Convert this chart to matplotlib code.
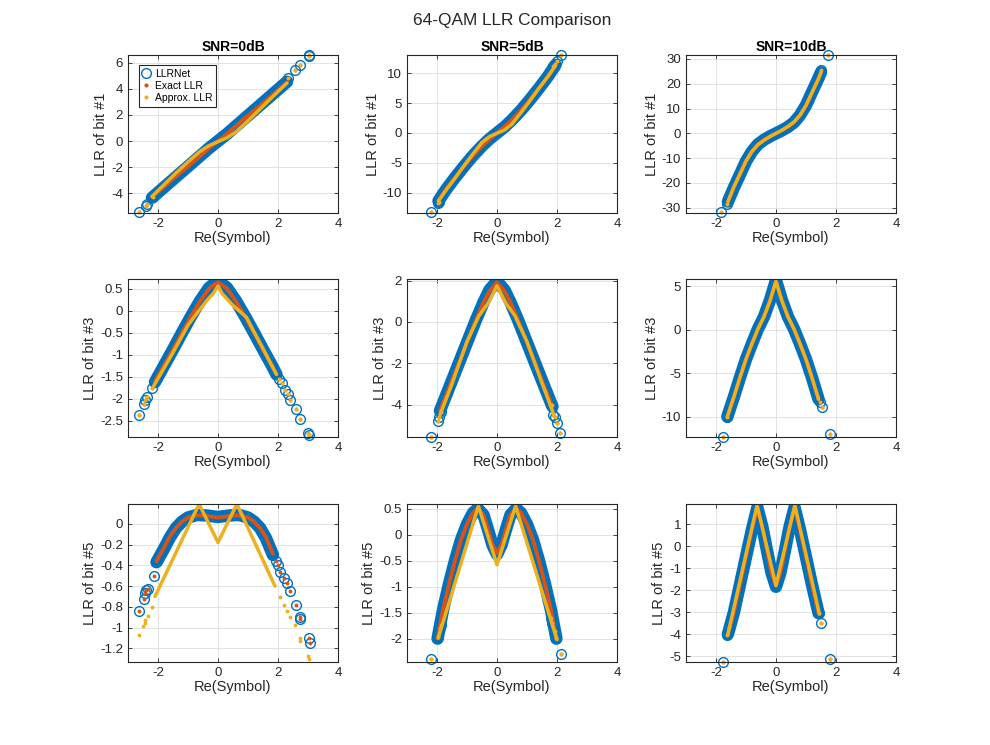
import matplotlib
matplotlib.use("Agg")
import matplotlib.pyplot as plt
from matplotlib.lines import Line2D

plt.rcParams['font.family'] = ['Liberation Sans', 'DejaVu Sans']
plt.rcParams['axes.unicode_minus'] = False

BLUE = '#0072BD'
RED = '#D95319'
YELLOW = '#EDB120'

snr_titles = ['SNR=0dB', 'SNR=5dB', 'SNR=10dB']
bit_labels = ['LLR of bit #1', 'LLR of bit #3', 'LLR of bit #5']
legend_labels = ['LLRNet', 'Exact LLR', 'Approx. LLR']

# ---- bit 1, SNR 0 dB
b1s0_x = [-2.2, -1.8, -1.4, -1.0, -0.6, -0.3, 0.0, 0.3, 0.6, 1.0, 1.4, 1.8, 2.3]
b1s0_net = [-4.35, -3.55, -2.75, -1.95, -1.15, -0.55, 0.0, 0.55, 1.15, 1.95, 2.75, 3.55, 4.55]
b1s0_exact = [-4.3, -3.5, -2.7, -1.95, -1.15, -0.55, 0.0, 0.55, 1.15, 1.95, 2.7, 3.5, 4.5]
b1s0_apx_x = [-2.2, -1.8, -1.4, -1.0, -0.6, -0.3, 0.0, 0.3, 0.6, 1.0, 1.4, 1.8, 2.3]
b1s0_apx = [-4.25, -3.35, -2.45, -1.6, -0.8, -0.35, -0.05, 0.25, 0.7, 1.55, 2.45, 3.35, 4.45]
b1s0_tail_x = [-2.62, -2.4, -2.36, -2.17, 2.35, 2.58, 2.74, 3.02, 3.04]
b1s0_tail = [-5.45, -4.95, -4.85, -4.3, 4.86, 5.44, 5.82, 6.5, 6.58]

# ---- bit 1, SNR 5 dB
b1s5_x = [-1.95, -1.7, -1.4, -1.1, -0.8, -0.5, -0.25, 0.0, 0.25, 0.5, 0.8, 1.1, 1.4, 1.7, 1.95]
b1s5_net = [-11.4, -9.5, -7.5, -5.6, -3.8, -2.2, -1.0, 0.0, 1.0, 2.2, 3.8, 5.6, 7.5, 9.5, 11.4]
b1s5_exact = [-11.3, -9.4, -7.5, -5.6, -3.8, -2.2, -1.05, 0.0, 1.05, 2.2, 3.8, 5.6, 7.5, 9.4, 11.3]
b1s5_apx_x = [-1.95, -1.7, -1.4, -1.1, -0.8, -0.5, -0.25, 0.0, 0.25, 0.5, 0.8, 1.1, 1.4, 1.7, 1.95]
b1s5_apx = [-11.4, -9.6, -7.6, -5.5, -3.5, -1.6, -0.6, -0.05, 0.5, 1.5, 3.4, 5.4, 7.5, 9.5, 11.3]
b1s5_tail_x = [-2.19, -1.97, -1.93, 1.88, 1.95, 1.99, 2.14]
b1s5_tail = [-13.3, -11.8, -11.5, 11.2, 11.6, 12.0, 13.1]

# ---- bit 1, SNR 10 dB
b1s10_x = [-1.6, -1.4, -1.2, -1.0, -0.8, -0.6, -0.4, -0.2, 0.0, 0.2, 0.4, 0.6, 0.8, 1.0, 1.2, 1.4, 1.5]
b1s10_net = [-27.5, -21.8, -16.6, -11.3, -7.3, -4.4, -2.6, -1.2, 0.0, 1.2, 2.6, 4.4, 7.3, 11.3, 16.6, 21.8, 24.6]
b1s10_exact = [-27.5, -21.5, -16.4, -11.2, -7.2, -4.4, -2.6, -1.2, 0.0, 1.2, 2.6, 4.4, 7.2, 11.2, 16.4, 21.5, 24.5]
b1s10_apx_x = [-1.6, -1.4, -1.2, -1.0, -0.8, -0.6, -0.4, -0.2, 0.0, 0.2, 0.4, 0.6, 0.8, 1.0, 1.2, 1.4, 1.5]
b1s10_apx = [-27.5, -21.5, -16.4, -11.2, -7.3, -4.6, -2.8, -1.3, 0.0, 1.3, 2.8, 4.6, 7.3, 11.2, 16.4, 21.5, 24.5]
b1s10_tail_x = [-1.82, -1.62, 1.5, 1.75]
b1s10_tail = [-31.8, -28.3, 25.6, 31.5]

# ---- bit 3, SNR 0 dB
b3s0_x = [-2.1, -1.8, -1.5, -1.2, -0.9, -0.6, -0.3, 0.0, 0.3, 0.6, 0.9, 1.2, 1.5, 1.8, 1.95]
b3s0_net = [-1.62, -1.25, -0.88, -0.5, -0.13, 0.22, 0.52, 0.68, 0.52, 0.22, -0.13, -0.5, -0.88, -1.25, -1.45]
b3s0_exact = [-1.6, -1.25, -0.88, -0.5, -0.13, 0.21, 0.5, 0.65, 0.5, 0.21, -0.13, -0.5, -0.88, -1.25, -1.44]
b3s0_apx_x = [-2.15, -1.5, -1.0, -0.75, -0.35, -0.15, 0.0, 0.15, 0.5, 0.95, 1.2, 1.5, 1.95]
b3s0_apx = [-1.72, -0.95, -0.33, -0.1, 0.25, 0.4, 0.56, 0.38, 0.12, -0.15, -0.48, -0.86, -1.45]
b3s0_tail_x = [-2.62, -2.48, -2.42, -2.36, -2.2, 2.05, 2.15, 2.25, 2.32, 2.39, 2.61, 2.74, 3.0, 3.03]
b3s0_tail = [-2.36, -2.13, -2.02, -1.97, -1.75, -1.55, -1.65, -1.8, -1.9, -2.02, -2.24, -2.47, -2.78, -2.82]

# ---- bit 3, SNR 5 dB
b3s5_x = [-1.9, -1.6, -1.3, -1.0, -0.7, -0.45, -0.25, 0.0, 0.25, 0.45, 0.7, 1.0, 1.3, 1.6, 1.85]
b3s5_net = [-4.3, -3.2, -2.1, -1.0, 0.1, 0.95, 1.55, 1.97, 1.55, 0.95, 0.1, -1.0, -2.1, -3.2, -4.1]
b3s5_exact = [-4.3, -3.2, -2.1, -1.0, 0.1, 0.95, 1.5, 1.92, 1.5, 0.95, 0.1, -1.0, -2.1, -3.2, -4.1]
b3s5_apx_x = [-1.9, -1.5, -1.0, -0.6, -0.3, 0.0, 0.3, 0.6, 1.0, 1.5, 1.9]
b3s5_apx = [-4.5, -3.0, -0.95, 0.3, 0.9, 1.75, 0.9, 0.3, -0.95, -2.95, -4.5]
b3s5_tail_x = [-2.19, -1.96, -1.93, -1.88, 1.82, 1.87, 1.93, 2.0, 2.11]
b3s5_tail = [-5.58, -4.8, -4.6, -4.35, -4.0, -4.5, -4.6, -4.9, -5.37]

# ---- bit 3, SNR 10 dB
b3s10_x = [-1.62, -1.4, -1.2, -1.0, -0.8, -0.6, -0.4, -0.2, 0.0, 0.2, 0.4, 0.6, 0.8, 1.0, 1.2, 1.42]
b3s10_net = [-10.0, -7.7, -5.5, -3.4, -1.6, 0.1, 1.5, 3.4, 5.7, 3.4, 1.5, 0.1, -1.6, -3.4, -5.5, -8.0]
b3s10_exact = [-10.0, -7.7, -5.5, -3.4, -1.6, 0.1, 1.5, 3.4, 5.6, 3.4, 1.5, 0.1, -1.6, -3.4, -5.5, -8.0]
b3s10_apx_x = [-1.62, -1.4, -1.2, -1.0, -0.8, -0.6, -0.4, -0.2, 0.0, 0.2, 0.4, 0.6, 0.8, 1.0, 1.2, 1.42]
b3s10_apx = [-10.0, -7.7, -5.5, -3.4, -1.6, 0.1, 1.5, 3.3, 5.6, 3.3, 1.5, 0.1, -1.6, -3.4, -5.5, -8.0]
b3s10_tail_x = [-1.76, -1.63, 1.47, 1.52, 1.79]
b3s10_tail = [-12.3, -10.1, -8.3, -8.9, -12.0]

# ---- bit 5, SNR 0 dB
b5s0_x = [-2.05, -1.8, -1.6, -1.4, -1.2, -1.0, -0.7, -0.4, 0.0, 0.4, 0.7, 1.0, 1.2, 1.4, 1.6, 1.83]
b5s0_net = [-0.37, -0.24, -0.13, -0.04, 0.02, 0.06, 0.085, 0.08, 0.065, 0.08, 0.085, 0.06, 0.02, -0.04, -0.14, -0.3]
b5s0_exact = [-0.36, -0.23, -0.12, -0.04, 0.02, 0.06, 0.08, 0.075, 0.06, 0.075, 0.08, 0.06, 0.02, -0.04, -0.13, -0.29]
b5s0_apx_x = [-2.1, -0.63, 0.0, 0.63, 1.9]
b5s0_apx = [-0.7, 0.19, -0.18, 0.19, -0.6]
b5s0_tail_x = [-2.62, -2.48, -2.45, -2.4, -2.35, -2.14, 1.95, 2.0, 2.08, 2.19, 2.3, 2.41, 2.61, 2.74, 2.75, 3.02, 3.08]
b5s0_tail = [-0.84, -0.72, -0.67, -0.64, -0.63, -0.5, -0.36, -0.4, -0.46, -0.52, -0.57, -0.65, -0.78, -0.9, -0.92, -1.1, -1.15]
b5s0_apx_tail_x = [-2.62, -2.5, -2.45, -2.42, -2.35, -2.2, 2.08, 2.19, 2.3, 2.41, 2.58, 2.72, 2.75, 3.0, 3.04]
b5s0_apx_tail = [-1.07, -0.98, -0.95, -0.93, -0.89, -0.8, -0.7, -0.78, -0.84, -0.9, -0.97, -1.1, -1.13, -1.27, -1.3]

# ---- bit 5, SNR 5 dB
b5s5_x = [-1.98, -1.8, -1.6, -1.4, -1.2, -1.0, -0.8, -0.64, -0.45, -0.3, -0.15, 0.0,
          0.15, 0.3, 0.45, 0.64, 0.8, 1.0, 1.2, 1.4, 1.6, 1.8, 1.98]
b5s5_net = [-2.0, -1.45, -0.95, -0.5, -0.1, 0.2, 0.42, 0.5, 0.38, 0.1, -0.2, -0.38,
            -0.2, 0.1, 0.38, 0.5, 0.42, 0.2, -0.1, -0.5, -0.95, -1.45, -2.0]
b5s5_exact = [-2.0, -1.45, -0.95, -0.5, -0.1, 0.2, 0.42, 0.5, 0.38, 0.1, -0.2, -0.35,
              -0.2, 0.1, 0.38, 0.5, 0.42, 0.2, -0.1, -0.5, -0.95, -1.45, -2.0]
b5s5_apx_x = [-1.96, -0.62, 0.0, 0.62, 2.0]
b5s5_apx = [-1.99, 0.55, -0.58, 0.55, -2.02]
b5s5_tail_x = [-2.21, -1.96, -1.9, -1.85, 1.81, 1.84, 1.92, 1.98, 2.15]
b5s5_tail = [-2.4, -1.96, -1.8, -1.73, -1.6, -1.7, -1.86, -1.99, -2.29]

# ---- bit 5, SNR 10 dB
b5s10_x = [-1.6, -1.4, -1.2, -1.0, -0.8, -0.62, -0.45, -0.3, -0.15, 0.0,
           0.15, 0.3, 0.45, 0.62, 0.8, 1.0, 1.2, 1.42]
b5s10_net = [-4.0, -3.0, -1.75, -0.5, 0.75, 1.75, 0.85, -0.2, -1.2, -1.85,
             -1.2, -0.2, 0.85, 1.75, 0.75, -0.5, -1.75, -3.05]
b5s10_exact = [-4.0, -3.0, -1.75, -0.5, 0.75, 1.75, 0.85, -0.2, -1.2, -1.8,
               -1.2, -0.2, 0.85, 1.75, 0.75, -0.5, -1.75, -3.05]
b5s10_apx_x = [-1.6, -0.63, 0.0, 0.63, 1.45]
b5s10_apx = [-4.0, 1.85, -1.8, 1.85, -3.1]
b5s10_tail_x = [-1.76, -1.62, -1.55, 1.42, 1.5, 1.79]
b5s10_tail = [-5.27, -4.05, -3.7, -3.05, -3.5, -5.12]

panels = [
    [(b1s0_x, b1s0_net, b1s0_exact, b1s0_apx_x, b1s0_apx, b1s0_tail_x, b1s0_tail, b1s0_tail_x, b1s0_tail),
     (b1s5_x, b1s5_net, b1s5_exact, b1s5_apx_x, b1s5_apx, b1s5_tail_x, b1s5_tail, b1s5_tail_x, b1s5_tail),
     (b1s10_x, b1s10_net, b1s10_exact, b1s10_apx_x, b1s10_apx, b1s10_tail_x, b1s10_tail, b1s10_tail_x, b1s10_tail)],
    [(b3s0_x, b3s0_net, b3s0_exact, b3s0_apx_x, b3s0_apx, b3s0_tail_x, b3s0_tail, b3s0_tail_x, b3s0_tail),
     (b3s5_x, b3s5_net, b3s5_exact, b3s5_apx_x, b3s5_apx, b3s5_tail_x, b3s5_tail, b3s5_tail_x, b3s5_tail),
     (b3s10_x, b3s10_net, b3s10_exact, b3s10_apx_x, b3s10_apx, b3s10_tail_x, b3s10_tail, b3s10_tail_x, b3s10_tail)],
    [(b5s0_x, b5s0_net, b5s0_exact, b5s0_apx_x, b5s0_apx, b5s0_tail_x, b5s0_tail, b5s0_apx_tail_x, b5s0_apx_tail),
     (b5s5_x, b5s5_net, b5s5_exact, b5s5_apx_x, b5s5_apx, b5s5_tail_x, b5s5_tail, b5s5_tail_x, b5s5_tail),
     (b5s10_x, b5s10_net, b5s10_exact, b5s10_apx_x, b5s10_apx, b5s10_tail_x, b5s10_tail, b5s10_tail_x, b5s10_tail)],
]

# axis limits (matlab "tight" y limits)
ylims = [[(-5.52, 6.6), (-13.42, 13.08), (-32.1, 31.6)],
         [(-2.87, 0.72), (-5.57, 2.08), (-12.35, 5.85)],
         [(-1.33, 0.19), (-2.45, 0.59), (-5.27, 1.91)]]
yticks = [[[-4, -2, 0, 2, 4, 6], [-10, -5, 0, 5, 10], [-30, -20, -10, 0, 10, 20, 30]],
          [[-2.5, -2, -1.5, -1, -0.5, 0, 0.5], [-4, -2, 0, 2], [-10, -5, 0, 5]],
          [[-1.2, -1, -0.8, -0.6, -0.4, -0.2, 0], [-2, -1.5, -1, -0.5, 0, 0.5], [-5, -4, -3, -2, -1, 0, 1]]]

fig = plt.figure(figsize=(9.9, 7.45), dpi=100)
lefts = [0.1293, 0.4111, 0.6929]
bottoms = [0.7141, 0.4134, 0.1114]
w, h = 0.2121, 0.2121

for r in range(3):
    for c in range(3):
        ax = fig.add_axes([lefts[c], bottoms[r], w, h])
        bx, net, exact, ax_x, apx, tx, tnet, tax, tapx = panels[r][c]

        # LLRNet: dense circles -> thick band, plus isolated circles
        ax.plot(bx, net, '-', color=BLUE, lw=9, solid_capstyle='round', solid_joinstyle='round')
        ax.plot(tx, tnet, 'o', mfc='none', mec=BLUE, ms=7, mew=1.0, clip_on=False)
        # exact
        ax.plot(bx, exact, '-', color=RED, lw=2.8, solid_capstyle='round')
        ax.plot(tx, tnet, '.', color=RED, ms=3.5, clip_on=False)
        # approx
        ax.plot(ax_x, apx, '-', color=YELLOW, lw=2.5, solid_capstyle='round')
        ax.plot(tax, tapx, '.', color=YELLOW, ms=3.5, clip_on=False)

        ax.set_xlim(-3, 4)
        ax.set_ylim(*ylims[r][c])
        ax.set_xticks([-2, 0, 2, 4])
        ax.set_yticks(yticks[r][c])
        ax.set_yticklabels([f'{v:g}' for v in yticks[r][c]])
        ax.grid(True, color='#dedede', lw=0.6)
        ax.set_axisbelow(True)
        ax.tick_params(direction='in', length=3, width=0.6, top=True, right=True,
                       labelsize=9.5, colors='#262626')
        for s in ax.spines.values():
            s.set_color('#262626')
            s.set_linewidth(0.8)
        ax.set_xlabel('Re(Symbol)', fontsize=10.5, color='#262626', labelpad=1)
        ax.set_ylabel(bit_labels[r], fontsize=10.5, color='#262626', labelpad=2)
        if r == 0:
            ax.set_title(snr_titles[c], fontsize=10, fontweight='bold', pad=3)
        if r == 0 and c == 0:
            handles = [Line2D([], [], ls='none', marker='o', mfc='none', mec=BLUE, ms=7),
                       Line2D([], [], ls='none', marker='.', color=RED, ms=4),
                       Line2D([], [], ls='none', marker='.', color=YELLOW, ms=4)]
            leg = ax.legend(handles, legend_labels, loc='upper left', bbox_to_anchor=(0.05, 0.935),
                            fontsize=7.5, frameon=True, fancybox=False, framealpha=1,
                            edgecolor='#262626', handlelength=0.8, handletextpad=0.4,
                            borderpad=0.35, labelspacing=0.2, borderaxespad=0)
            leg.get_frame().set_linewidth(0.8)

fig.text(0.517, 0.973, '64-QAM LLR Comparison', ha='center', va='center', fontsize=12.4, color='#262626')
fig.savefig('out.png', dpi=100, facecolor='white')
